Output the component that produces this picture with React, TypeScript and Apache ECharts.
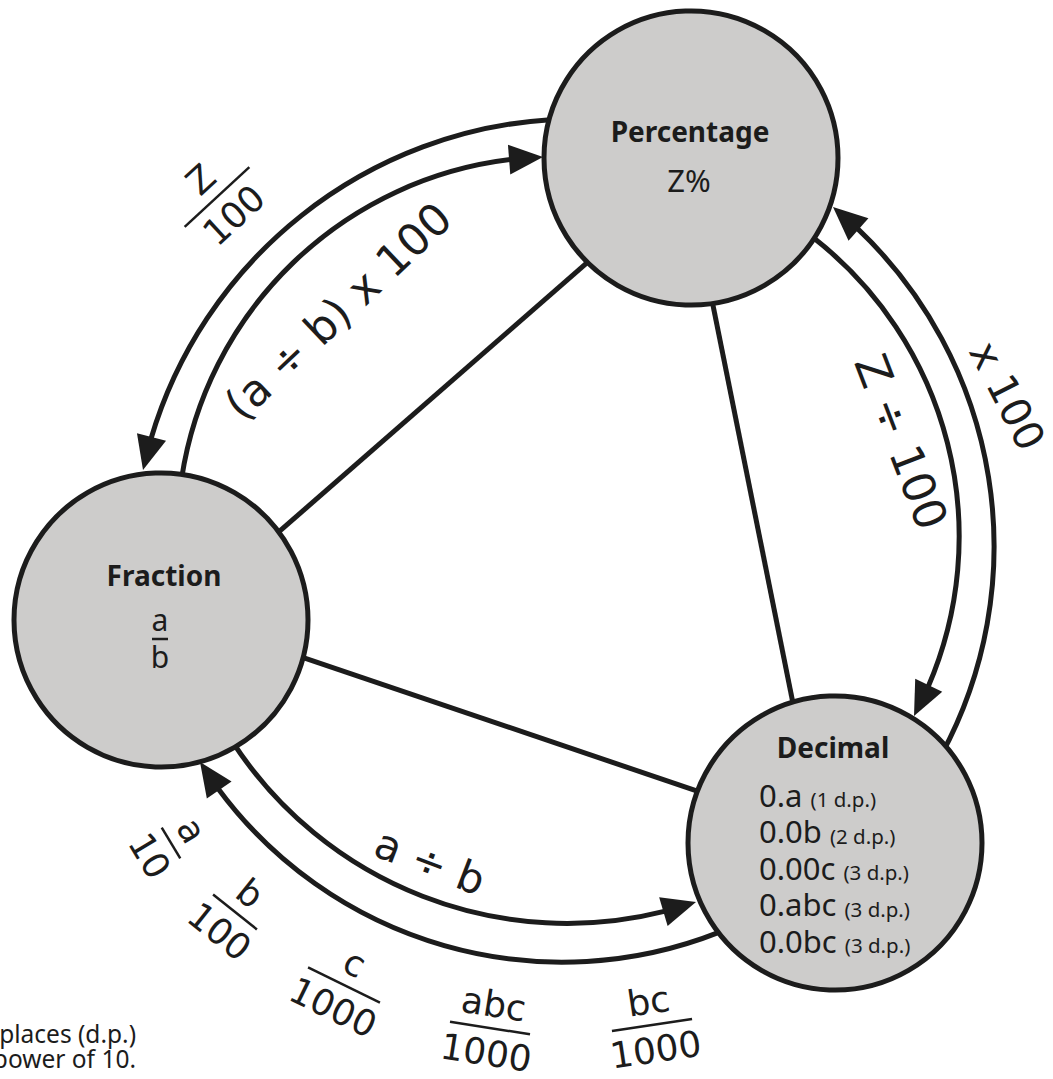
import React, { useEffect, useRef } from "react";
import * as echarts from "echarts";

const INK = "#1c1c1c";
const NODE_FILL = "#cdcccb";
const NODE_FONT = '"Noto Sans", "Open Sans", sans-serif';
const LABEL_FONT = '"DejaVu Sans", "Liberation Sans", sans-serif';

// ---------- content ----------
const nodeTitles = ["Percentage", "Fraction", "Decimal"];
const percentageForm = "Z%";
const fractionNumerator = "a";
const fractionDenominator = "b";
const decimalForms = ["0.a", "0.0b", "0.00c", "0.abc", "0.0bc"];
const decimalPlaces = ["(1 d.p.)", "(2 d.p.)", "(3 d.p.)", "(3 d.p.)", "(3 d.p.)"];
const conversionLabels = ["(a ÷ b) x 100", "Z ÷ 100", "x 100", "a ÷ b"];
const powerNumerators = ["Z", "a", "b", "c", "abc", "bc"];
const powerDenominators = ["100", "10", "100", "1000", "1000", "1000"];
const noteLines = ["Count the number of decimal places (d.p.)", "to find the power of 10."];

// ---------- layout ----------
const nodeCenters = [[691, 158], [161, 620], [835, 843]];
const NODE_R = 147;
// [nodeA, angleOnA(deg), nodeB, angleOnB(deg)]
const edgeEnds = [[0, 134.7, 1, -36.7], [0, 81.6, 2, 253.2], [1, 14.7, 2, 200.7]];
// each arrow arc: start point, a point it passes through, arrow tip
const arcPaths = [
  [[545, 120], [270, 243], [143, 470]],
  [[183, 470], [270, 287], [543, 157]],
  [[945, 748], [993, 577], [833, 207]],
  [[820, 243], [957, 577], [914, 716]],
  [[238, 750], [550, 923], [696, 902]],
  [[712, 935], [550, 962], [200, 762]],
];
// [x, y, rotation deg, font size]
const labelPlaces = [[338, 311, 43.4, 44], [901, 442, -69, 45], [1007, 396, -63, 41], [430, 862, -21, 42]];
// [x, y, rotation deg, bar length]
const powerPlaces = [
  [217, 197, 42.7, 88],
  [171, 843, -59, 36],
  [235, 912, -38.5, 56],
  [344, 985, -26, 80],
  [490, 1028, -9, 81],
  [652, 1025, 8.5, 81],
];
const DECIMAL_X = 759;
const DECIMAL_FIRST_BASELINE = 807;
const DECIMAL_ROW_GAP = 36.5;

const ARROW_L = 34;
const ARROW_W = 30;
const LW = 5;

function circleFrom3(p1: number[], p2: number[], p3: number[]) {
  const [x1, y1] = p1, [x2, y2] = p2, [x3, y3] = p3;
  const d = 2 * (x1 * (y2 - y3) + x2 * (y3 - y1) + x3 * (y1 - y2));
  const s1 = x1 * x1 + y1 * y1, s2 = x2 * x2 + y2 * y2, s3 = x3 * x3 + y3 * y3;
  const ux = (s1 * (y2 - y3) + s2 * (y3 - y1) + s3 * (y1 - y2)) / d;
  const uy = (s1 * (x3 - x2) + s2 * (x1 - x3) + s3 * (x2 - x1)) / d;
  return [ux, uy, Math.hypot(x1 - ux, y1 - uy)];
}
const TAU = Math.PI * 2;
const mod = (a: number) => ((a % TAU) + TAU) % TAU;

const K_CENTRAL = 0.388; // central baseline offset for Noto Sans (em)
// y for 'middle' text so that baseline lands at `baseline`
const midY = (baseline: number, fs: number, k = K_CENTRAL) => baseline - k * fs;

function text(t: string, x: number, y: number, fs: number, opts: any = {}) {
  const align = opts.align || "center";
  return {
    type: "text",
    x,
    y,
    rotation: opts.rotation || 0,
    z: 10,
    style: {
      text: t,
      fill: INK,
      fontSize: fs,
      lineHeight: fs,
      fontFamily: opts.family || NODE_FONT,
      fontWeight: opts.weight || "normal",
      align,
      textAlign: align,
      verticalAlign: "middle",
      textVerticalAlign: "middle",
    },
  };
}

function buildElements() {
  const els: any[] = [];

  // triangle edges
  edgeEnds.forEach(([a, aa, b, ab]) => {
    const ca = nodeCenters[a], cb = nodeCenters[b];
    const ra = (aa * Math.PI) / 180, rb = (ab * Math.PI) / 180;
    els.push({
      type: "line",
      z: 1,
      shape: {
        x1: ca[0] + (NODE_R - 3) * Math.cos(ra),
        y1: ca[1] + (NODE_R - 3) * Math.sin(ra),
        x2: cb[0] + (NODE_R - 3) * Math.cos(rb),
        y2: cb[1] + (NODE_R - 3) * Math.sin(rb),
      },
      style: { stroke: INK, lineWidth: LW },
    });
  });

  // arrow arcs
  const arrows: any[] = [];
  arcPaths.forEach(([p1, p2, p3]) => {
    const [cx, cy, r] = circleFrom3(p1, p2, p3);
    const a1 = Math.atan2(p1[1] - cy, p1[0] - cx);
    const a2 = Math.atan2(p2[1] - cy, p2[0] - cx);
    const a3 = Math.atan2(p3[1] - cy, p3[0] - cx);
    const inc = mod(a2 - a1) < mod(a3 - a1);
    const s = inc ? 1 : -1;
    const span = inc ? mod(a3 - a1) : mod(a1 - a3);
    const startA = a1 - s * (8 / r);
    const tipA = a1 + s * span;
    const baseA = tipA - s * (ARROW_L / r);
    const lineEnd = baseA + s * (2 / r);
    els.push({
      type: "arc",
      z: 1,
      shape: {
        cx, cy, r,
        startAngle: inc ? startA : lineEnd,
        endAngle: inc ? lineEnd : startA,
        clockwise: true,
      },
      style: { stroke: INK, lineWidth: LW, fill: "none" },
    });
    const tip = [cx + r * Math.cos(tipA), cy + r * Math.sin(tipA)];
    const base = [cx + r * Math.cos(baseA), cy + r * Math.sin(baseA)];
    const dx = tip[0] - base[0], dy = tip[1] - base[1];
    const len = Math.hypot(dx, dy);
    const ux = dx / len, uy = dy / len;
    const b0 = [tip[0] - ux * ARROW_L, tip[1] - uy * ARROW_L];
    const nx = -uy, ny = ux;
    arrows.push({
      type: "polygon",
      z: 6,
      shape: {
        points: [
          tip,
          [b0[0] + (nx * ARROW_W) / 2, b0[1] + (ny * ARROW_W) / 2],
          [b0[0] - (nx * ARROW_W) / 2, b0[1] - (ny * ARROW_W) / 2],
        ],
      },
      style: { fill: INK },
    });
  });

  // nodes
  nodeCenters.forEach(([cx, cy]) => {
    els.push({
      type: "circle",
      z: 5,
      shape: { cx, cy, r: NODE_R },
      style: { fill: NODE_FILL, stroke: INK, lineWidth: LW },
    });
  });
  els.push(...arrows);

  // node texts
  els.push(text(nodeTitles[0], 690, midY(142, 28), 28, { weight: "bold" }));
  els.push(text(percentageForm, 689, midY(192.5, 31), 31));
  els.push(text(nodeTitles[1], 164, midY(586, 28), 28, { weight: "bold" }));
  els.push(text(fractionNumerator, 160, midY(631.5, 30), 30));
  els.push(text(fractionDenominator, 160, midY(668, 30), 30));
  els.push({
    type: "line",
    z: 10,
    shape: { x1: 152, y1: 639, x2: 168, y2: 639 },
    style: { stroke: INK, lineWidth: 2.5 },
  });
  els.push(text(nodeTitles[2], 833, midY(758, 28), 28, { weight: "bold" }));

  // decimal forms as one rich text block
  const VFS = 31, NFS = 20.5;
  const shift = K_CENTRAL * (VFS - NFS); // push small note down to share baseline
  const rows = decimalForms
    .map((v, i) => `{v|${v} }{n|${decimalPlaces[i]}}`)
    .join("\n");
  els.push({
    type: "text",
    x: DECIMAL_X,
    y: DECIMAL_FIRST_BASELINE - DECIMAL_ROW_GAP / 2 - K_CENTRAL * VFS,
    z: 10,
    style: {
      text: rows,
      align: "left",
      textAlign: "left",
      verticalAlign: "top",
      textVerticalAlign: "top",
      lineHeight: DECIMAL_ROW_GAP,
      fill: INK,
      rich: {
        v: { fontSize: VFS, fontFamily: NODE_FONT, fill: INK, lineHeight: DECIMAL_ROW_GAP },
        n: {
          fontSize: NFS,
          fontFamily: NODE_FONT,
          fill: INK,
          lineHeight: DECIMAL_ROW_GAP,
          padding: [shift * 2, 0, 0, 0],
        },
      },
    },
  });

  // conversion labels along arcs
  conversionLabels.forEach((t, i) => {
    const [x, y, rot, fs] = labelPlaces[i];
    els.push(
      text(t, x, y, fs, { family: LABEL_FONT, rotation: (rot * Math.PI) / 180 })
    );
  });

  // power-of-ten fractions
  powerNumerators.forEach((num, i) => {
    const [x, y, rot, len] = powerPlaces[i];
    els.push({
      type: "group",
      x,
      y,
      rotation: (rot * Math.PI) / 180,
      z: 10,
      children: [
        text(num, 0, -24, 36, { family: LABEL_FONT }),
        {
          type: "line",
          shape: { x1: -len / 2, y1: 0, x2: len / 2, y2: 0 },
          style: { stroke: INK, lineWidth: 2.5 },
        },
        text(powerDenominators[i], 0, 25, 36, { family: LABEL_FONT }),
      ],
    });
  });

  // note (runs off the left edge), one two-line text
  const NOTE_FS = 24.5, NOTE_LH = 25;
  els.push({
    type: "text",
    x: 136,
    y: 1043 - NOTE_LH / 2 - K_CENTRAL * NOTE_FS,
    z: 10,
    style: {
      text: noteLines.join("\n"),
      fill: INK,
      fontSize: NOTE_FS,
      fontFamily: NODE_FONT,
      lineHeight: NOTE_LH,
      align: "right",
      textAlign: "right",
      verticalAlign: "top",
      textVerticalAlign: "top",
    },
  });

  return els;
}

export default function App() {
  const ref = useRef<HTMLDivElement>(null);
  useEffect(() => {
    if (!ref.current) return;
    const chart = echarts.init(ref.current, null, { renderer: "svg" });
    chart.setOption({
      animation: false,
      backgroundColor: "#ffffff",
      graphic: { elements: buildElements() },
    });
    return () => chart.dispose();
  }, []);
  return (
    <div
      ref={ref}
      style={{ position: "absolute", left: 0, top: 0, width: 1053, height: 1079 }}
    />
  );
}
